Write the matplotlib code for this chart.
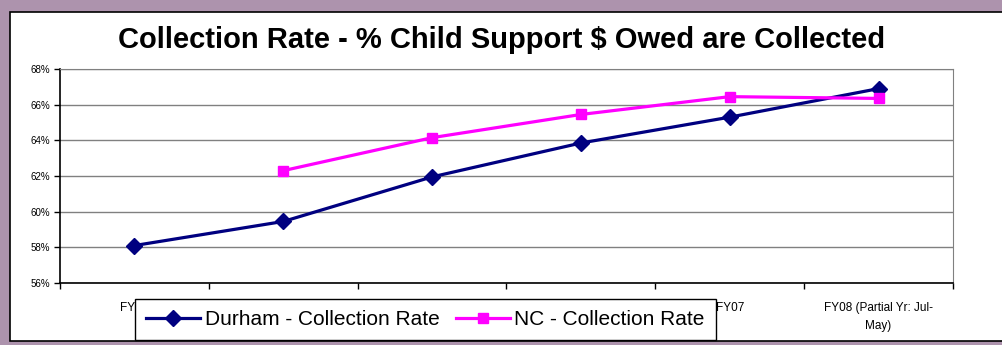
import matplotlib
matplotlib.use("Agg")
import matplotlib.pyplot as plt
from matplotlib.patches import Rectangle
from matplotlib.ticker import FixedLocator, FuncFormatter

categories = ["FY03", "FY04", "FY05", "FY06", "FY07", "FY08 (Partial Yr: Jul-\nMay)"]
durham = [58.1, 59.45, 61.95, 63.85, 65.3, 66.9]
nc = [None, 62.3, 64.15, 65.45, 66.45, 66.35]
y_ticks = [56, 58, 60, 62, 64, 66, 68]

plt.rcParams['font.family'] = ['Liberation Sans', 'DejaVu Sans']

W, H = 1003, 345
fig = plt.figure(figsize=(W / 100, H / 100), dpi=100)
fig.patch.set_facecolor('#ad93ad')

# inner white chart area
fig.add_artist(Rectangle((10 / W, 1 - 341 / H), (W - 10) / W + 0.01, (341 - 12) / H,
                         transform=fig.transFigure, facecolor='white',
                         edgecolor='black', linewidth=1.2, zorder=0))

ax = fig.add_axes([60 / W, 1 - 283 / H, (953 - 60) / W, (283 - 69) / H])
x = list(range(len(categories)))
nc_x = [i for i, v in zip(x, nc) if v is not None]
nc_y = [v for v in nc if v is not None]

ax.plot(x, durham, color='#000080', linewidth=2.3, marker='D', markersize=8,
        label='Durham - Collection Rate', zorder=3)
ax.plot(nc_x, nc_y, color='#ff00ff', linewidth=2.3, marker='s', markersize=7.5,
        label='NC - Collection Rate', zorder=3)

ax.set_xlim(-0.5, len(categories) - 0.5)
ax.set_ylim(56, 68)
ax.set_yticks(y_ticks)
ax.yaxis.set_major_formatter(FuncFormatter(lambda v, p: f"{int(v)}%"))
ax.grid(axis='y', color='#808080', linewidth=1)
ax.set_axisbelow(True)

ax.set_xticks(x)
ax.set_xticklabels(categories, fontsize=8.5, linespacing=1.6)
ax.xaxis.set_minor_locator(FixedLocator([i - 0.5 for i in range(len(categories) + 1)]))
ax.tick_params(axis='x', which='major', length=0, pad=14)
ax.tick_params(axis='x', which='minor', length=4, color='black', width=1)
ax.tick_params(axis='y', length=4, labelsize=7, color='black', width=1, pad=3)

for s in ['top', 'right']:
    ax.spines[s].set_color('#808080')
for s in ['left', 'bottom']:
    ax.spines[s].set_color('black')
    ax.spines[s].set_linewidth(1.2)

fig.text(502 / W, 1 - 48 / H, "Collection Rate - % Child Support $ Owed are Collected",
         ha='center', va='baseline', fontsize=21, fontweight='bold')

leg = fig.legend(loc='center', bbox_to_anchor=((138 + 713) / 2 / W, 1 - 319.5 / H),
                 ncol=2, fontsize=15, frameon=True, fancybox=False, edgecolor='black',
                 handlelength=2.6, columnspacing=0.8, handletextpad=0.2,
                 borderpad=0.55, borderaxespad=0)
leg.get_frame().set_linewidth(1)
leg.get_frame().set_alpha(1)
leg.set_zorder(10)

fig.savefig('out.png', dpi=100, facecolor=fig.get_facecolor())
